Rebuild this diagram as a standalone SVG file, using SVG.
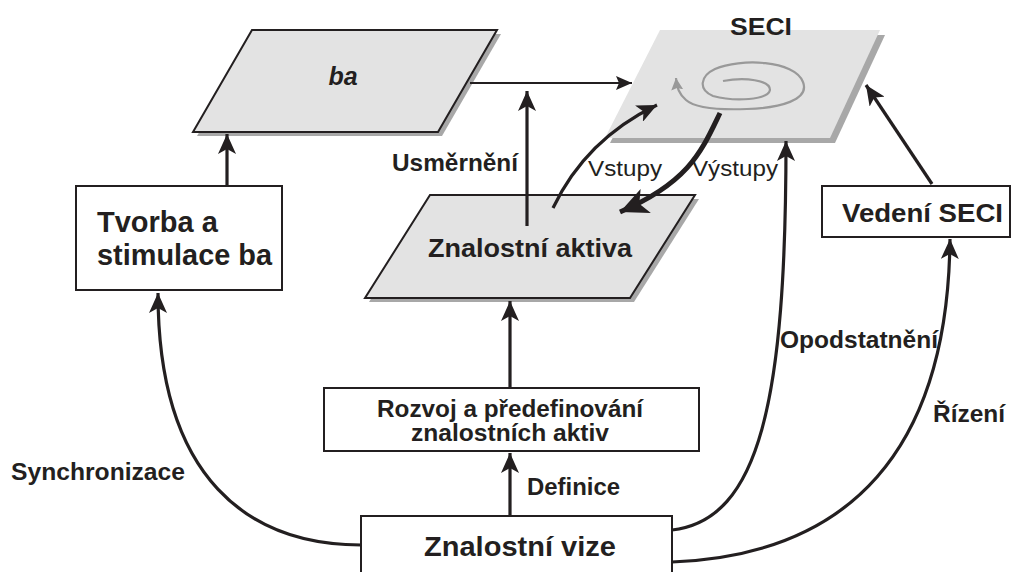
<svg xmlns="http://www.w3.org/2000/svg" width="1016" height="572" viewBox="0 0 1016 572">
<style>
.t{font-family:"Liberation Sans",Arial,sans-serif;font-weight:bold;fill:#231f20}
.r{font-family:"Liberation Sans",Arial,sans-serif;font-weight:normal;fill:#231f20}
.box{fill:#fff;stroke:#231f20;stroke-width:2}
.para{fill:#e3e3e3;stroke:#231f20;stroke-width:2}
.sh{fill:#a8a8a8}
.c{fill:none;stroke:#231f20;stroke-width:3.2}
</style>
<defs>
<marker id="ah" markerUnits="userSpaceOnUse" markerWidth="22" markerHeight="18" refX="20" refY="9" orient="auto">
<path d="M0,0 L20,9 L0,18 L5,9 z" fill="#231f20"/>
</marker>
<marker id="ahs" markerUnits="userSpaceOnUse" markerWidth="18" markerHeight="14" refX="16" refY="7" orient="auto">
<path d="M0,0 L16,7 L0,14 L3,7 z" fill="#231f20"/>
</marker>
<marker id="ahb" markerUnits="userSpaceOnUse" markerWidth="30" markerHeight="26" refX="28" refY="13" orient="auto">
<path d="M0,0 L28,13 L0,26 L7,13 z" fill="#231f20"/>
</marker>
<marker id="ahg" markerUnits="userSpaceOnUse" markerWidth="14" markerHeight="12" refX="12" refY="6" orient="auto">
<path d="M0,0 L12,6 L0,12 L2,6 z" fill="#999"/>
</marker>
</defs>

<g id="seci">
<polygon class="sh" points="665,35 885,35 835,143 610,143"/>
<polygon points="660,30 880,30 830,138 605,138" fill="#e3e3e3"/>
<path d="M723,81 C745,77 770,80 770,90 C768,100 735,102 713,96 C698,90 700,76 715,69 C740,58 795,60 803,82 C810,100 780,108 747,109 C720,110 695,108 686,100 C679,94 677,88 676,78" fill="none" stroke="#999" stroke-width="2.2" marker-end="url(#ahg)"/>
<text class="t" x="730" y="35" font-size="24" textLength="62" lengthAdjust="spacingAndGlyphs">SECI</text>
</g>

<g id="ba">
<polygon class="sh" points="256,34 501,34 442,136 197,136"/>
<polygon class="para" points="252,30 497,30 438,132 193,132"/>
<text class="t" x="343" y="85" font-size="25" font-style="italic" text-anchor="middle">ba</text>
</g>

<g id="znalostni-aktiva">
<polygon class="sh" points="434,199 699,199 634,302 369,302"/>
<polygon class="para" points="430,195 695,195 630,298 365,298"/>
<text class="t" x="428" y="257" font-size="25" textLength="204" lengthAdjust="spacingAndGlyphs">Znalostní aktiva</text>
</g>

<g id="tvorba">
<rect class="box" x="76" y="186" width="206" height="104"/>
<text class="t" x="97" y="232" font-size="29">Tvorba a</text>
<text class="t" x="97" y="265" font-size="29" textLength="175" lengthAdjust="spacingAndGlyphs">stimulace ba</text>
</g>

<g id="vedeni">
<rect class="box" x="822" y="186" width="188" height="51"/>
<text class="t" x="842" y="222" font-size="26" textLength="161" lengthAdjust="spacingAndGlyphs">Vedení SECI</text>
</g>

<g id="rozvoj">
<rect class="box" x="324" y="388" width="375" height="63"/>
<text class="t" x="510" y="417" font-size="23" text-anchor="middle" textLength="266" lengthAdjust="spacingAndGlyphs">Rozvoj a předefinování</text>
<text class="t" x="510" y="441" font-size="23" text-anchor="middle" textLength="198" lengthAdjust="spacingAndGlyphs">znalostních aktiv</text>
</g>

<g id="vize">
<rect class="box" x="361" y="516" width="311" height="70"/>
<text class="t" x="424" y="556" font-size="27" textLength="192" lengthAdjust="spacingAndGlyphs">Znalostní vize</text>
</g>

<g id="connectors">
<line x1="470" y1="83" x2="632" y2="83" stroke="#231f20" stroke-width="2" marker-end="url(#ahs)"/>
<line class="c" x1="227" y1="186" x2="227" y2="134" marker-end="url(#ah)"/>
<line class="c" x1="527" y1="226" x2="527" y2="91" marker-end="url(#ah)"/>
<path class="c" d="M553,208 C573,166 605,130 657,105" marker-end="url(#ah)"/>
<path d="M720,113 C702,150 690,182 620,212" fill="none" stroke="#231f20" stroke-width="5" marker-end="url(#ahb)"/>
<line class="c" x1="932" y1="184" x2="866" y2="85" marker-end="url(#ah)"/>
<line class="c" x1="510" y1="388" x2="510" y2="301" marker-end="url(#ah)"/>
<line class="c" x1="510" y1="516" x2="510" y2="453" marker-end="url(#ah)"/>
<path class="c" d="M361,545 C250,545 158,480 158,293" marker-end="url(#ah)"/>
<path class="c" d="M672,530 C760,520 786,400 786,141" marker-end="url(#ah)"/>
<path class="c" d="M672,562 C850,555 948,450 950,239" marker-end="url(#ah)"/>
<text class="t" x="392" y="171" font-size="24" textLength="126" lengthAdjust="spacingAndGlyphs">Usměrnění</text>
<text class="r" x="588" y="176" font-size="22" textLength="74" lengthAdjust="spacingAndGlyphs">Vstupy</text>
<text class="r" x="692" y="176" font-size="22" textLength="86" lengthAdjust="spacingAndGlyphs">Výstupy</text>
<text class="t" x="780" y="348" font-size="24" textLength="158" lengthAdjust="spacingAndGlyphs">Opodstatnění</text>
<text class="t" x="933" y="422" font-size="24" textLength="72" lengthAdjust="spacingAndGlyphs">Řízení</text>
<text class="t" x="527" y="495" font-size="24" textLength="93" lengthAdjust="spacingAndGlyphs">Definice</text>
<text class="t" x="11" y="480" font-size="24" textLength="174" lengthAdjust="spacingAndGlyphs">Synchronizace</text>
</g>
</svg>
